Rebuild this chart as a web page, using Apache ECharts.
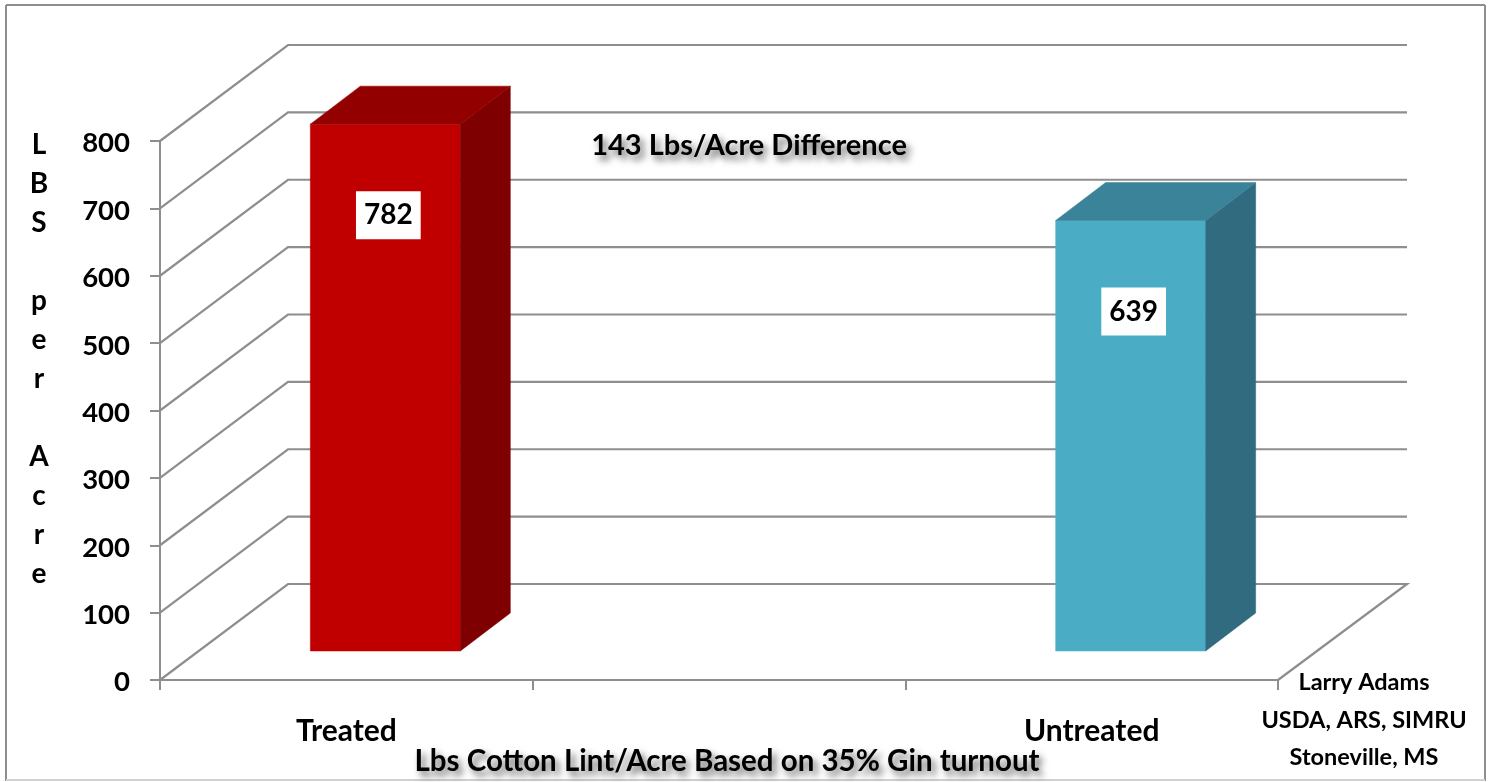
<!DOCTYPE html>
<html><head><meta charset="utf-8">
<style>html,body{margin:0;padding:0;background:#fff;overflow:hidden}#c{width:1490px;height:782px}</style>
<script src="https://cdn.jsdelivr.net/npm/echarts@6/dist/echarts.min.js"></script>
</head><body><div id="c"></div>
<script>
const categories = ['Treated', '', 'Untreated'];
const lintValues = [782, null, 639];
const yTicks = [0, 100, 200, 300, 400, 500, 600, 700, 800];
const yTitle = 'L\nB\nS\n\np\ne\nr\n\nA\nc\nr\ne';
const xTitle = 'Lbs Cotton Lint/Acre Based on 35% Gin turnout';
const note = '143 Lbs/Acre Difference';
const credit = 'Larry Adams\nUSDA, ARS, SIMRU\nStoneville, MS';

const FONT = 'Lato, "Open Sans", sans-serif';
const GRAY = '#8e8e8e';
const WALL = {dx: 128, dy: -96};
const BAR = {width: 150, dx: 50, dy: -38, inX: 39, inY: -29, labelDrop: 91};
const FACES = {
  0: {front: '#C00000', side: '#7F0000', top: '#930000'},
  2: {front: '#4BACC6', side: '#316B7F', top: '#3A8398'}
};

function renderWalls(params, api) {
  const v = api.value(1);
  const p = api.coord([0, v]);
  const band = api.size([1, 0])[0];
  const x0 = p[0] - band / 2, y0 = p[1];
  const xb = x0 + WALL.dx, yb = y0 + WALL.dy;
  const xr = xb + band * categories.length + 1;
  const pts = [[x0, y0], [xb, yb], [xr, yb]];
  if (v === 0) pts.push([xr - WALL.dx - 1, y0]);
  return {type: 'polyline', shape: {points: pts}, style: {fill: null, stroke: GRAY, lineWidth: 2.2}};
}

function renderBars(params, api) {
  const i = api.value(0), v = api.value(1);
  const top = api.coord([i, v]), base = api.coord([i, 0]);
  const xl = top[0] + BAR.inX - BAR.width / 2, xr = xl + BAR.width;
  const yt = top[1] + BAR.inY, yb = base[1] + BAR.inY;
  const c = FACES[i];
  const poly = (points, fill) => ({type: 'polygon', shape: {points}, style: {fill, stroke: fill, lineWidth: 0.5}});
  return {type: 'group', children: [
    poly([[xl, yb], [xr, yb], [xr, yt], [xl, yt]], c.front),
    poly([[xr, yb], [xr + BAR.dx, yb + BAR.dy], [xr + BAR.dx, yt + BAR.dy], [xr, yt]], c.side),
    poly([[xl, yt], [xr, yt], [xr + BAR.dx, yt + BAR.dy], [xl + BAR.dx, yt + BAR.dy]], c.top),
    {type: 'text', x: (xl + xr) / 2 + 3, y: yt + BAR.labelDrop, z2: 5, style: {
      text: String(v), fill: '#000', font: 'bold 28px ' + FONT,
      align: 'center', verticalAlign: 'middle', backgroundColor: '#fff', padding: [10, 8, 10, 8]}}
  ]};
}

const shadow = {textShadowColor: 'rgba(0,0,0,0.6)', textShadowBlur: 7, textShadowOffsetX: 4, textShadowOffsetY: 5};
const frame = (x1, y1, x2, y2, stroke) => ({type: 'line', shape: {x1, y1, x2, y2}, style: {stroke, lineWidth: 2}, silent: true});

const chart = echarts.init(document.getElementById('c'), null, {renderer: 'canvas'});
chart.setOption({
  animation: false,
  backgroundColor: '#fff',
  grid: {left: 160, right: 212, top: 141, bottom: 102},
  xAxis: {
    type: 'category', data: categories,
    axisLine: {lineStyle: {color: GRAY, width: 2}},
    axisTick: {show: true, length: 10, alignWithLabel: false, lineStyle: {color: GRAY, width: 2}},
    axisLabel: {color: '#000', fontFamily: FONT, fontWeight: 'bold', fontSize: 30, margin: 36, interval: 0},
    splitLine: {show: false}
  },
  yAxis: {
    type: 'value', min: 0, max: 800, interval: 100,
    axisLine: {show: true, lineStyle: {color: GRAY, width: 2}},
    axisTick: {show: true, length: 10, lineStyle: {color: GRAY, width: 2}},
    axisLabel: {color: '#000', fontFamily: FONT, fontWeight: 'bold', fontSize: 27.5, margin: 30, verticalAlign: 'top', lineHeight: 5},
    splitLine: {show: false}
  },
  series: [
    {type: 'custom', silent: true, z: 1, renderItem: renderWalls, data: yTicks.map(v => [0, v]), encode: {x: 0, y: 1}},
    {type: 'custom', silent: true, z: 3, renderItem: renderBars,
     data: lintValues.map((v, i) => [i, v]).filter(d => d[1] !== null), encode: {x: 0, y: 1}}
  ],
  graphic: [
    frame(6, 5, 1485, 5, GRAY), frame(6, 5, 6, 781, GRAY), frame(1485, 5, 1485, 781, GRAY), frame(6, 780, 1485, 780, '#d0d0d0'),
    {type: 'text', x: 39, y: 359, silent: true, style: {text: yTitle, fill: '#000', font: 'bold 28px ' + FONT, align: 'center', verticalAlign: 'middle', lineHeight: 39}},
    {type: 'text', x: 749, y: 146, silent: true, style: Object.assign({text: note, fill: '#000', font: 'bold 29px ' + FONT, align: 'center', verticalAlign: 'middle'}, shadow)},
    {type: 'text', x: 727, y: 761, silent: true, style: Object.assign({text: xTitle, fill: '#000', font: 'bold 29.5px ' + FONT, align: 'center', verticalAlign: 'middle'}, shadow)},
    {type: 'text', x: 1364, y: 720, silent: true, style: {text: credit, fill: '#000', font: 'bold 23.5px ' + FONT, align: 'center', verticalAlign: 'middle', lineHeight: 37.5}}
  ]
});
</script></body></html>
